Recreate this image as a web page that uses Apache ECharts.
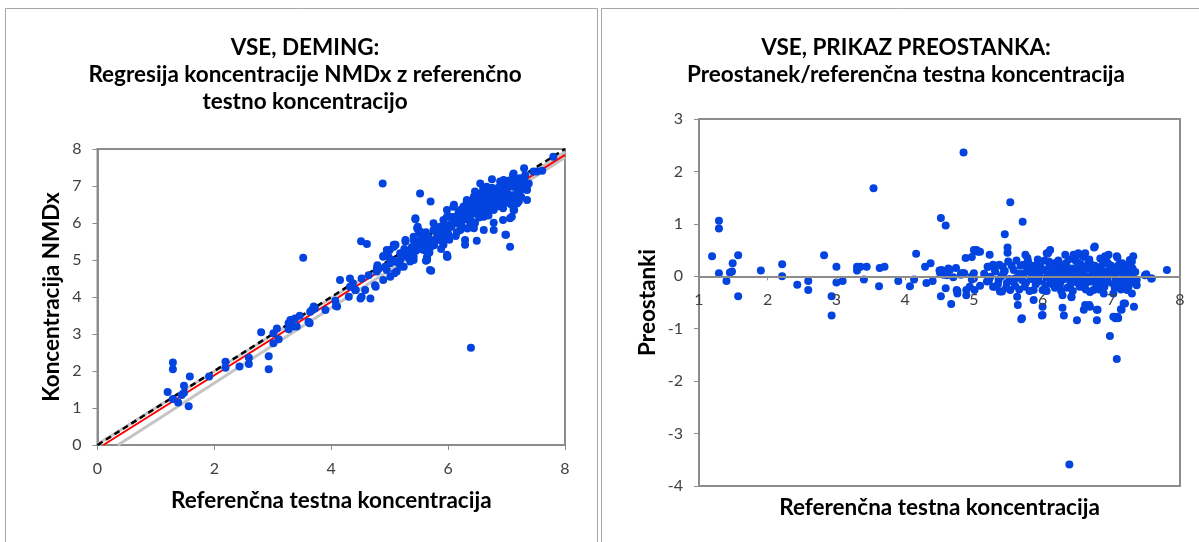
<!DOCTYPE html>
<html>
<head>
<meta charset="utf-8">
<script src="https://cdn.jsdelivr.net/npm/echarts@6/dist/echarts.min.js"></script>
<style>
  html, body { margin: 0; padding: 0; background: #fff; }
  #chart { width: 1199px; height: 542px; }
</style>
</head>
<body>
<div id="chart"></div>
<script>
// left panel: reference concentration vs NMDx concentration
const demingPoints = [
  [1.20,1.43],[1.29,2.23],[1.29,2.05],[1.29,1.24],[1.38,1.15],[1.44,1.35],[1.48,1.41],[1.48,1.60],[1.56,1.05],[1.58,1.85],
  [1.91,1.85],[2.19,2.25],[2.19,2.09],[2.43,2.12],[2.59,2.36],[2.59,2.19],[2.80,3.05],[2.93,2.40],[2.93,2.05],[3.01,3.02],
  [3.01,2.75],[3.10,2.86],[3.07,3.15],[3.27,3.29],[3.33,3.38],[3.38,3.42],[3.46,3.49],[3.41,3.20],[3.30,3.38],[3.35,3.20],
  [3.27,3.13],[3.62,3.31],[3.64,3.60],[3.72,3.69],[3.67,3.65],[3.52,5.06],[3.63,3.29],[3.90,3.65],[4.10,3.74],[4.07,3.90],
  [4.08,3.76],[4.15,4.46],[4.32,4.50],[4.37,4.37],[4.30,4.01],[4.42,4.19],[4.50,3.96],[4.58,4.19],[4.67,3.96],[4.52,4.50],
  [4.64,4.59],[4.76,4.28],[4.78,4.69],[4.89,4.46],[4.81,4.76],[4.92,4.82],[4.98,5.09],[5.07,5.36],[5.10,5.41],[5.01,4.91],
  [5.12,4.69],[5.18,5.00],[5.24,4.82],[5.27,5.18],[5.35,4.96],[5.41,5.00],[5.44,5.36],[5.47,5.50],[5.58,5.27],[5.64,5.05],
  [5.69,4.73],[5.72,5.45],[5.81,5.54],[5.87,5.63],[5.92,5.41],[5.98,5.14],[5.64,5.63],[5.52,5.77],[4.51,5.51],[4.61,5.43],
  [4.32,4.28],[4.41,4.19],[4.52,4.01],[4.75,4.32],[3.61,3.33],[3.70,3.74],
  [4.88,7.07],[5.52,6.80],[5.70,6.58],[5.44,6.10],[5.48,5.90],[5.49,5.81],[5.75,5.99],[5.98,5.09],[6.29,5.54],[6.29,5.41],
  [6.49,5.52],[6.44,5.86],[6.61,5.81],[6.78,5.81],[6.78,6.01],[6.99,5.68],[7.06,5.36],[6.94,6.08],[7.09,6.17],[7.13,6.35],
  [7.18,6.53],[7.35,6.62],[7.23,6.85],[7.30,7.48],[7.38,7.07],[7.35,6.89],[7.11,7.30],[6.75,7.18],[6.89,7.12],[7.52,7.39],
  [7.61,7.41],[7.46,7.39],[7.80,7.79],[7.12,7.34],[6.92,7.07],[7.01,7.12],[6.46,6.85],[6.60,6.94],[6.66,6.71],[6.32,6.58],
  [6.10,6.49],[5.98,6.17],[5.44,6.13],[5.47,5.86],[5.27,5.54],[5.07,5.41],[5.00,5.27],[4.89,5.11],[4.79,4.86],[4.78,4.78],
  [4.95,4.73],[5.12,4.95],[5.01,4.55],[5.08,4.64],[5.18,4.82],[5.41,5.09],[5.64,5.09],[5.62,4.98],[5.71,4.71],[5.99,5.09],
  [7.21,6.58],[7.12,6.35],[7.06,6.13],[6.98,5.68],
  [4.89,5.09],[4.95,5.27],[5.09,5.41],[5.27,5.50],[5.41,5.54],[5.58,5.50],[5.18,5.18],[5.35,5.27],[5.64,5.36],[5.69,5.54],
  [5.81,5.72],[5.98,5.81],[6.04,6.17],[6.09,6.44],[6.21,6.35],[6.26,6.17],[6.32,6.62],[6.44,6.71],[6.55,6.80],[6.55,6.44],
  [6.66,6.98],[6.72,6.62],[6.83,6.89],[6.89,6.53],[6.95,7.16],[7.01,6.80],[7.12,6.98],[7.23,7.21],[7.29,7.07],[6.44,6.26],
  [6.15,5.99],[5.86,5.90],[5.52,5.72],[5.41,5.63],[5.64,5.00],[5.29,5.09],[5.46,5.45],[5.92,5.63],[6.21,5.81],[6.38,5.99],
  [6.61,6.17],[6.78,6.35],[6.83,6.71],[7.06,6.62],[6.66,6.53],[6.49,6.53],[6.32,6.26],[6.12,6.17],[5.92,6.08],[5.75,5.81],
  [5.58,5.63],[5.98,6.35],[6.55,7.07],[7.01,7.07],[7.18,6.80],[6.89,6.89],[6.72,6.80],[6.38,6.53],[6.26,6.44],
  [5.05,5.00],[5.12,4.95],[5.20,5.10],[5.25,5.30],[5.32,5.15],[5.38,5.35],[5.45,5.25],[5.50,5.40],[5.55,5.60],[5.60,5.45],
  [5.66,5.62],[5.70,5.35],[5.78,5.55],[5.85,5.75],[5.90,5.50],[5.95,5.95],[6.00,5.70],[6.05,5.90],[6.10,6.10],[6.15,5.75],
  [6.18,6.30],[6.22,6.00],[6.28,6.45],[6.30,6.10],[6.35,6.35],[6.40,6.05],[6.42,6.55],[6.47,6.40],[6.52,6.25],[6.55,6.60],
  [6.60,6.45],[6.63,6.75],[6.68,6.30],[6.70,6.55],[6.75,6.95],[6.80,6.60],[6.85,6.45],[6.88,6.80],[6.92,6.95],[6.97,6.70],
  [7.00,6.90],[7.05,7.15],[7.08,6.50],[7.15,7.10],[7.20,6.95],[7.25,6.70],[7.30,7.20],[7.35,7.00],[6.39,2.63],
  [5.55,5.30],[5.62,5.75],[5.68,5.20],[5.76,5.40],[5.83,5.85],[5.88,5.30],[5.93,5.80],[6.02,5.55],[6.07,6.05],[6.13,5.65],
  [6.17,6.15],[6.24,5.90],[6.27,6.30],[6.33,5.85],[6.37,6.20],[6.42,6.40],[6.46,6.00],[6.50,6.65],[6.53,6.15],[6.58,6.30],
  [6.62,6.85],[6.65,6.40],[6.69,6.20],[6.73,6.45],[6.77,6.85],[6.81,6.50],[6.86,6.95],[6.90,6.65],[6.94,6.40],[6.98,6.85],
  [7.02,6.55],[7.07,7.00],[7.10,6.75],[7.14,6.60],[7.17,7.20],[7.22,7.05],[7.27,6.95],[7.32,7.30]
];

// left panel lines: identity, Deming fit and its confidence limits
const identityLine = [[0, 0], [8, 8]];
const demingLine = [[0.10, 0], [8, 7.84]];
const upperLimit = [[0, 0.02], [8, 7.92]];
const lowerLimit = [[0.35, 0], [8, 7.77]];

// right panel: residuals vs reference concentration
const residualPoints = [
  [1.19,0.38],[1.29,1.06],[1.29,0.91],[1.29,0.06],[1.40,-0.09],[1.45,0.07],[1.48,0.09],[1.49,0.25],[1.57,0.40],[1.57,-0.38],
  [1.90,0.11],[2.21,0.23],[2.21,0.00],[2.43,-0.16],[2.59,-0.09],[2.59,-0.26],[2.82,0.40],[2.93,-0.38],[2.93,-0.75],[3.00,0.18],
  [3.00,-0.12],[3.09,-0.09],[3.30,0.18],[3.30,0.11],[3.35,0.18],[3.44,0.18],[3.40,-0.06],[3.54,1.68],[3.62,-0.19],[3.63,0.16],
  [3.70,0.18],[3.90,-0.09],[4.07,-0.19],[4.13,-0.06],[4.16,0.43],[4.29,0.18],[4.37,0.25],[4.31,-0.13],[4.40,-0.09],[4.52,1.11],
  [4.59,0.97],[4.50,0.11],[4.52,-0.38],[4.56,0.03],[4.59,-0.23],[4.63,0.15],[4.67,-0.53],[4.70,-0.02],[4.74,0.16],[4.76,-0.33],
  [4.76,-0.28],[4.81,0.03],[4.85,2.36],[4.86,0.06],[4.88,0.35],[4.89,-0.26],[4.89,-0.36],
  [5.53,1.41],[5.71,1.04],[5.45,0.80],[5.49,0.55],[5.49,0.45],[5.00,0.50],[5.06,0.47],[4.97,0.37],[5.23,0.41],[4.84,0.06],
  [4.97,0.00],[4.97,-0.06],[4.94,-0.20],[5.01,-0.26],[5.09,-0.18],[5.20,0.18],[5.28,0.22],[5.37,0.22],[5.24,-0.01],[5.31,0.09],
  [5.19,-0.10],[5.28,-0.20],[5.41,-0.29],[5.36,-0.07],[5.43,0.06],[5.48,-0.13],[5.53,-0.26],[5.58,0.12],[5.60,-0.04],[5.63,-0.39],
  [5.64,-0.55],[5.69,-0.82],[5.75,0.41],
  [5.72,0.22],[5.77,0.09],[5.70,-0.07],[5.79,0.28],[5.84,-0.01],[5.87,-0.26],[5.89,0.18],[5.94,-0.10],[5.96,0.09],[5.99,-0.75],
  [6.00,-0.26],[6.06,0.44],[6.11,0.50],[6.09,0.28],[6.13,0.09],[6.16,-0.07],[6.21,0.22],[6.25,0.06],[6.25,-0.20],[6.29,-0.36],
  [6.29,-0.60],[6.31,-0.75],[6.33,0.41],[6.35,0.18],[6.40,-0.07],[6.42,-0.39],[6.45,0.41],[6.50,0.12],[6.50,-0.84],[6.52,0.44],
  [6.55,-0.01],[6.59,-0.20],[6.62,0.44],[6.62,-0.55],[6.67,0.28],[6.69,-0.58],[6.72,-0.07],[6.74,-0.26],[6.76,0.57],[6.79,-0.64],
  [6.79,-0.84],[6.81,0.12],[6.84,0.34],[6.86,-0.13],[6.89,-0.33],[6.91,0.38],[6.93,0.06],[6.96,0.41],[6.98,-1.14],[7.01,-0.13],
  [7.03,-0.33],[7.06,-0.80],[7.08,0.38],[7.08,-1.58],[7.10,-0.80],[7.13,0.18],[7.15,-0.64],[7.18,-0.01],[7.18,-0.52],[7.20,0.09],
  [7.23,-0.26],[7.25,-0.20],[7.27,0.31],[7.30,-0.33],[7.32,0.38],[7.32,-0.07],[7.33,-0.58],[7.37,-0.17],[7.37,-0.07],[7.49,0.02],
  [7.59,-0.04],[7.81,0.12],[6.39,-3.59],
  [5.72,0.05],[5.76,-0.12],[5.80,0.15],[5.83,-0.05],[5.86,0.08],[5.90,-0.15],[5.92,0.22],[5.95,0.00],[5.98,-0.08],[6.02,0.12],
  [6.04,-0.18],[6.07,0.03],[6.10,0.20],[6.12,-0.10],[6.15,0.10],[6.18,-0.22],[6.20,0.00],[6.23,0.30],[6.26,-0.12],[6.28,0.12],
  [6.32,-0.05],[6.34,0.25],[6.37,0.05],[6.40,-0.18],[6.43,0.15],[6.45,-0.02],[6.48,0.30],[6.50,-0.12],[6.53,0.08],[6.56,0.22],
  [6.58,-0.08],[6.60,0.02],[6.63,-0.25],[6.65,0.15],[6.68,0.32],[6.70,-0.10],[6.73,0.05],[6.76,0.20],[6.78,-0.15],[6.80,0.00],
  [6.83,0.12],[6.86,-0.05],[6.88,0.25],[6.90,-0.20],[6.94,0.10],[6.97,-0.08],[7.00,0.20],[7.02,0.02],[7.05,-0.22],[7.10,0.08],
  [7.12,-0.12],[7.16,0.25],[7.20,-0.05],[7.22,0.12],[7.26,-0.15],[7.28,0.05],
  [5.15,0.05],[5.22,-0.08],[5.30,0.15],[5.35,-0.15],[5.40,0.00],[5.45,0.10],[5.52,-0.05],[5.55,0.20],[5.60,-0.18],[5.65,0.05],
  [5.68,0.20],[4.51,0.06],[4.53,0.12],[4.61,0.02],[4.65,0.12],[4.75,-0.26],[4.82,0.06],[5.04,0.50],[5.09,0.47],[5.00,0.06],
  [5.00,-0.04],[5.21,0.18],[5.31,-0.20],[5.38,-0.29],[5.70,-0.80],[6.00,-0.74],[5.87,-0.45],[6.00,-0.58],[6.42,-0.40],[6.60,-0.64],
  [6.68,-0.55],[6.80,-0.64],[7.03,-0.77],[7.09,-0.77],[7.14,-0.63],[7.20,-0.52],[6.75,0.55],[6.08,0.44],[6.50,0.41],[6.59,0.37],
  [6.93,0.37],[7.09,0.36],[7.30,0.28],[7.51,0.04],[7.58,-0.04],
  [5.42,0.18],[5.47,-0.22],[5.50,0.28],[5.57,-0.10],[5.62,0.30],[5.66,-0.25],[5.74,-0.20],[5.78,0.35],[5.81,-0.28],[5.85,0.20],
  [5.88,0.00],[5.93,0.32],[5.97,0.18],[6.01,-0.05],[6.03,0.30],[6.06,-0.28],[6.10,-0.02],[6.14,-0.15],[6.17,0.25],[6.19,0.10],
  [6.22,-0.08],[6.27,-0.28],[6.30,0.02],[6.31,0.20],[6.36,-0.22],[6.38,0.32],[6.41,0.08],[6.44,-0.28],[6.47,-0.05],[6.51,0.26],
  [6.54,-0.20],[6.57,0.05],[6.61,0.18],[6.64,-0.12],[6.66,0.00],[6.69,-0.30],[6.71,0.22],[6.74,0.10],[6.77,-0.05],[6.82,-0.25],
  [6.85,0.18],[6.87,0.05],[6.92,-0.12],[6.95,0.25],[6.99,0.05],[7.04,0.12],[7.07,-0.05],[7.11,0.22],[7.14,-0.25],[7.17,0.10],
  [7.21,-0.18],[7.24,0.20],[7.29,-0.10],[7.31,0.15],[7.35,0.08]
];

const xTicksLeft = [0, 8, 2];   // min, max, step
const yTicksLeft = [0, 8, 1];
const xTicksRight = [1, 8, 1];
const yTicksRight = [-4, 3, 1];

const axisGray = '#8c8c8c';
const labelColor = '#404040';
const dotColor = '#0343df';
const font = 'Lato';

function valueAxis(ticks, gridIndex, extra) {
  return Object.assign({
    type: 'value',
    gridIndex: gridIndex,
    min: ticks[0],
    max: ticks[1],
    interval: ticks[2],
    splitLine: { show: false },
    axisLine: { show: true, onZero: false, lineStyle: { color: axisGray, width: 2 } },
    axisTick: { show: true, length: 5, lineStyle: { color: axisGray, width: 1 } },
    axisLabel: { color: labelColor, fontFamily: font, fontSize: 16, margin: 16 },
    nameLocation: 'middle',
    nameTextStyle: { color: '#000', fontFamily: font, fontSize: 22.5, fontWeight: 'bold' }
  }, extra);
}

const chart = echarts.init(document.getElementById('chart'));
chart.setOption({
  animation: false,
  graphic: [
    { type: 'rect', shape: { x: 5.5, y: 8.5, width: 592, height: 560 }, style: { fill: null, stroke: '#a6a6a6', lineWidth: 1 } },
    { type: 'rect', shape: { x: 601.5, y: 8.5, width: 620, height: 560 }, style: { fill: null, stroke: '#a6a6a6', lineWidth: 1 } },
    { type: 'text', x: 305, y: 34, style: { text: 'VSE, DEMING:\nRegresija koncentracije NMDx z referenčno\ntestno koncentracijo', textAlign: 'center', textVerticalAlign: 'top', font: 'bold 22.5px Lato', lineHeight: 27, fill: '#000' } },
    { type: 'text', x: 906, y: 34, style: { text: 'VSE, PRIKAZ PREOSTANKA:\nPreostanek/referenčna testna koncentracija', textAlign: 'center', textVerticalAlign: 'top', font: 'bold 22.5px Lato', lineHeight: 27, fill: '#000' } }
  ],
  grid: [
    { left: 97.5, top: 149, width: 467.5, height: 296, show: true, borderColor: axisGray, borderWidth: 2, backgroundColor: 'transparent', outerBoundsMode: 'none' },
    { left: 699, top: 119, width: 481, height: 367, show: true, borderColor: axisGray, borderWidth: 2, backgroundColor: 'transparent', outerBoundsMode: 'none' }
  ],
  xAxis: [
    valueAxis(xTicksLeft, 0, { name: 'Referenčna testna koncentracija', nameGap: 44 }),
    // residual x axis drawn through y = 0 (grid bottom 486 -> zero at ~276.3)
    valueAxis(xTicksRight, 1, {
      name: 'Referenčna testna koncentracija', nameGap: 220,
      offset: -209.7,
      z: 10,
      axisTick: { show: true, length: 4, lineStyle: { color: axisGray, width: 1 } }
    })
  ],
  yAxis: [
    valueAxis(yTicksLeft, 0, { name: 'Koncentracija NMDx', nameGap: 34 }),
    valueAxis(yTicksRight, 1, { name: 'Preostanki', nameGap: 40 })
  ],
  series: [
    { type: 'line', xAxisIndex: 0, yAxisIndex: 0, data: upperLimit, symbol: 'none', lineStyle: { color: '#c4c4c4', width: 3 }, z: 2 },
    { type: 'line', xAxisIndex: 0, yAxisIndex: 0, data: lowerLimit, symbol: 'none', lineStyle: { color: '#c4c4c4', width: 3 }, z: 2 },
    { type: 'line', xAxisIndex: 0, yAxisIndex: 0, data: demingLine, symbol: 'none', lineStyle: { color: '#ff0000', width: 2 }, z: 3 },
    { type: 'line', xAxisIndex: 0, yAxisIndex: 0, data: identityLine, symbol: 'none', lineStyle: { color: '#000', width: 2.5, type: [6, 4] }, z: 3 },
    { type: 'scatter', xAxisIndex: 0, yAxisIndex: 0, data: demingPoints, symbolSize: 8, itemStyle: { color: dotColor, opacity: 1 }, z: 4 },
    { type: 'scatter', xAxisIndex: 1, yAxisIndex: 1, data: residualPoints, symbolSize: 8, itemStyle: { color: dotColor, opacity: 1 }, z: 4 }
  ]
});
</script>
</body>
</html>
